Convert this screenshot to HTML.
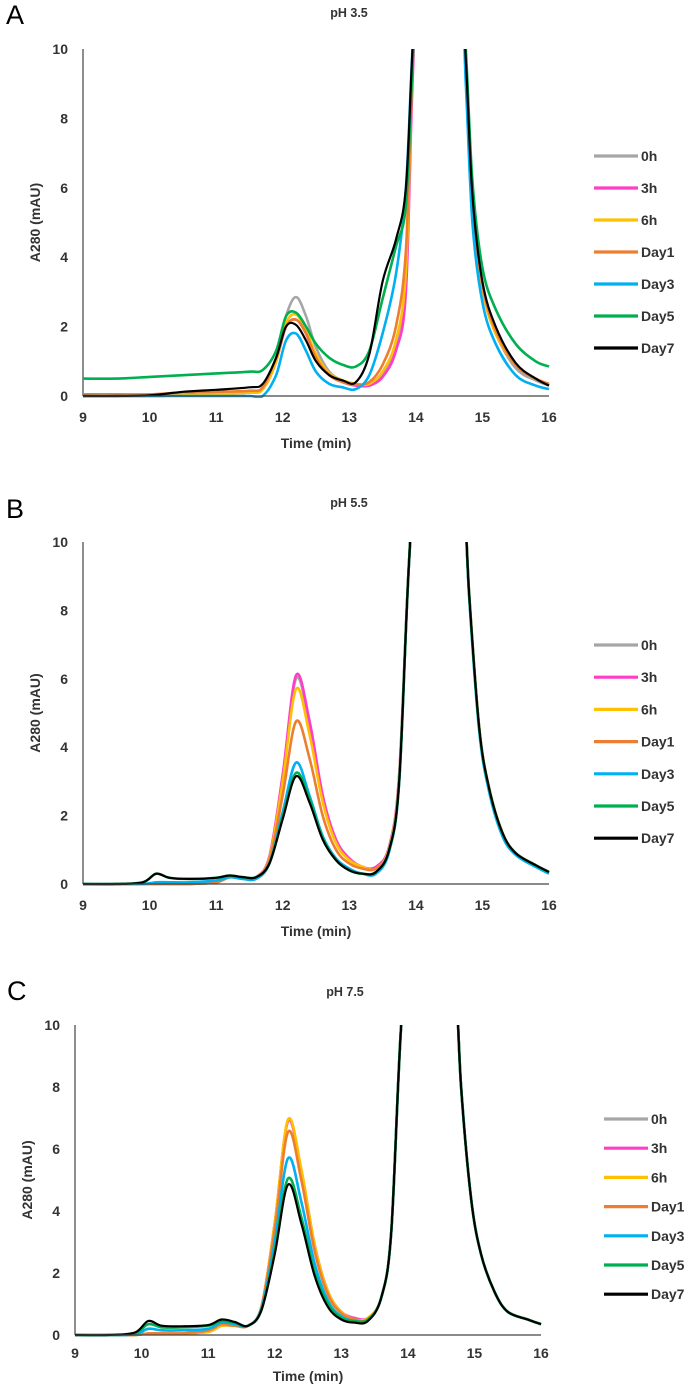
<!DOCTYPE html>
<html><head><meta charset="utf-8">
<style>
html,body{margin:0;padding:0;background:#fff;}
svg{display:block;}
text{font-family:"Liberation Sans",Arial,sans-serif;}
</style></head>
<body>
<svg id="fig" width="685" height="1386" viewBox="0 0 685 1386"></svg>
<script>
const seriesNames = ["0h","3h","6h","Day1","Day3","Day5","Day7"];
const seriesColors = ["#a6a6a6","#ff3dc8","#ffc000","#ed7d31","#00b0f0","#00b050","#000000"];
const xTicks = [9,10,11,12,13,14,15,16];
const yTicks = [0,2,4,6,8,10];

// Panel A (pH 3.5) time grid and values
const timesA = [9,9.5,10,10.5,11,11.5,11.7,11.9,12.05,12.2,12.35,12.5,12.7,12.9,13.1,13.3,13.5,13.7,13.85,13.95,14.1,14.6,14.75,14.85,15,15.2,15.5,15.8,16];
const a0h  = [0,0,0,0.02,0.05,0.1,0.2,1.0,2.3,2.85,2.3,1.4,0.7,0.45,0.35,0.3,0.6,1.5,3.5,9.5,15,15,9.5,5.5,3.1,1.8,0.8,0.45,0.3];
const a3h  = [0,0,0,0.02,0.05,0.1,0.2,1.0,2.0,2.2,1.8,1.1,0.6,0.4,0.3,0.3,0.55,1.3,3.0,9,15,15,9.5,5.5,3.1,1.8,0.9,0.5,0.35];
const a6h  = [0,0,0,0.02,0.05,0.1,0.2,1.0,2.1,2.35,1.9,1.2,0.65,0.45,0.35,0.35,0.7,1.6,3.6,9.5,15,15,9.5,5.5,3.1,1.8,0.9,0.5,0.35];
const aD1  = [0.05,0.05,0.05,0.1,0.12,0.15,0.25,1.1,2.0,2.2,1.8,1.1,0.6,0.4,0.33,0.4,0.9,2.0,4.2,9.5,15,15,9.5,5.6,3.2,1.9,0.9,0.5,0.35];
const aD3  = [0,0,0,0,0,0,0,0.6,1.6,1.8,1.3,0.7,0.35,0.25,0.2,0.6,1.8,3.5,6,10,15,15,9,5.0,2.7,1.5,0.6,0.3,0.2];
const aD5  = [0.5,0.5,0.55,0.6,0.65,0.7,0.75,1.3,2.3,2.4,2.0,1.5,1.1,0.9,0.85,1.3,2.8,4.3,5.5,9.5,15,15,10,6.2,3.7,2.5,1.5,1.0,0.85];
const aD7  = [0,0,0.02,0.12,0.18,0.25,0.35,1.1,2.0,2.05,1.6,1.0,0.6,0.45,0.4,1.2,3.3,4.5,6,10,15,15,9.7,5.8,3.3,2.0,0.95,0.5,0.3];

// Panel B (pH 5.5)
const timesB = [9,9.5,9.9,10.1,10.3,10.6,11.0,11.2,11.4,11.6,11.8,12.0,12.2,12.4,12.6,12.8,13.0,13.2,13.4,13.6,13.75,13.9,14.1,14.6,14.8,14.95,15.1,15.3,15.5,15.8,16];
const b0h = [0,0,0,0,0,0,0.05,0.2,0.2,0.2,0.8,3.1,6.0,4.7,2.55,1.3,0.75,0.5,0.5,1.1,3.2,9.5,15,15,8.5,4.6,2.8,1.5,0.9,0.55,0.35];
const b3h = [0,0,0,0,0,0,0.05,0.2,0.2,0.2,0.8,3.2,6.1,4.8,2.6,1.3,0.75,0.5,0.5,1.1,3.2,9.5,15,15,8.5,4.6,2.8,1.5,0.9,0.55,0.35];
const b6h = [0,0,0,0,0,0,0.05,0.2,0.2,0.2,0.75,3.0,5.7,4.4,2.4,1.2,0.7,0.5,0.45,1.05,3.1,9.5,15,15,8.5,4.6,2.8,1.5,0.9,0.55,0.35];
const bD1 = [0,0,0,0,0,0,0.05,0.2,0.2,0.2,0.7,2.6,4.75,3.7,2.0,1.0,0.6,0.45,0.45,1.0,3.0,9.5,15,15,8.5,4.6,2.8,1.5,0.9,0.55,0.35];
const bD3 = [0,0,0,0.05,0.05,0.05,0.1,0.2,0.15,0.15,0.6,2.1,3.55,2.6,1.4,0.75,0.45,0.3,0.3,0.95,3.0,9.5,15,15,8.4,4.5,2.7,1.4,0.85,0.5,0.3];
const bD5 = [0,0,0.05,0.3,0.18,0.15,0.18,0.25,0.2,0.2,0.6,1.95,3.25,2.5,1.35,0.7,0.4,0.3,0.35,1.0,3.0,9.5,15,15,8.5,4.6,2.8,1.5,0.9,0.55,0.35];
const bD7 = [0,0,0.05,0.3,0.18,0.15,0.18,0.25,0.2,0.2,0.6,1.9,3.15,2.4,1.3,0.7,0.4,0.3,0.35,1.0,3.0,9.5,15,15,8.5,4.6,2.8,1.5,0.9,0.55,0.35];

// Panel C (pH 7.5)
const timesC = timesB;
const c0h = [0,0,0,0.05,0.05,0.05,0.1,0.3,0.3,0.3,0.9,3.6,6.9,5.3,2.9,1.4,0.75,0.5,0.55,1.2,3.3,10,15,15,8.0,4.4,2.6,1.4,0.75,0.5,0.35];
const c3h = [0,0,0,0.05,0.05,0.05,0.1,0.3,0.3,0.3,0.9,3.6,6.9,5.3,2.9,1.4,0.75,0.55,0.55,1.2,3.3,10,15,15,8.0,4.4,2.6,1.4,0.75,0.5,0.35];
const c6h = [0,0,0,0.05,0.05,0.05,0.1,0.3,0.3,0.3,0.9,3.6,6.95,5.35,2.9,1.4,0.75,0.5,0.55,1.2,3.3,10,15,15,8.0,4.4,2.6,1.4,0.75,0.5,0.35];
const cD1 = [0,0,0,0.05,0.05,0.05,0.15,0.35,0.3,0.3,0.9,3.4,6.55,5.0,2.7,1.3,0.7,0.5,0.5,1.2,3.3,10,15,15,8.0,4.4,2.6,1.4,0.75,0.5,0.35];
const cD3 = [0,0,0.02,0.2,0.15,0.15,0.2,0.4,0.35,0.3,0.85,3.0,5.7,4.3,2.3,1.1,0.6,0.45,0.5,1.2,3.3,10,15,15,8.0,4.4,2.6,1.4,0.75,0.5,0.35];
const cD5 = [0,0,0.05,0.35,0.25,0.25,0.3,0.45,0.4,0.3,0.8,2.7,5.05,3.8,2.0,1.0,0.55,0.45,0.5,1.2,3.3,10,15,15,8.0,4.4,2.6,1.4,0.75,0.5,0.35];
const cD7 = [0,0,0.08,0.45,0.3,0.28,0.32,0.5,0.42,0.3,0.8,2.6,4.85,3.6,1.9,0.9,0.5,0.4,0.45,1.2,3.3,10,15,15,8.0,4.4,2.6,1.4,0.75,0.5,0.35];

const NS = "http://www.w3.org/2000/svg";
const svg = document.getElementById("fig");
function mk(tag, attrs, parent){
  const e = document.createElementNS(NS, tag);
  for (const k in attrs) e.setAttribute(k, attrs[k]);
  (parent||svg).appendChild(e);
  return e;
}
function smoothPath(pts){
  let d = "M"+pts[0][0].toFixed(1)+","+pts[0][1].toFixed(1);
  for (let i=0;i<pts.length-1;i++){
    const p0=pts[Math.max(0,i-1)], p1=pts[i], p2=pts[i+1], p3=pts[Math.min(pts.length-1,i+2)];
    const c1x=p1[0]+(p2[0]-p0[0])/6, c1y=p1[1]+(p2[1]-p0[1])/6;
    const c2x=p2[0]-(p3[0]-p1[0])/6, c2y=p2[1]-(p3[1]-p1[1])/6;
    d += " C"+c1x.toFixed(1)+","+c1y.toFixed(1)+" "+c2x.toFixed(1)+","+c2y.toFixed(1)+" "+p2[0].toFixed(1)+","+p2[1].toFixed(1);
  }
  return d;
}
function panel(cfg){
  const g = mk("g", {});
  
  
  const xs = v => cfg.x0 + (v-9)/(16-9)*(cfg.x1-cfg.x0);
  const ys = v => cfg.y0 - v/10*(cfg.y0-cfg.y10);
  const lab = mk("text", {x:cfg.labX, y:cfg.labY, "font-size":"27", "font-family":"Liberation Serif, serif", fill:"#000"}, g);
  lab.textContent = cfg.id.toUpperCase();
  
  
  const t = mk("text", {x:cfg.titleX, y:cfg.titleY, "font-size":"12.5", "font-weight":"bold", "text-anchor":"middle", fill:"#333"}, g);
  t.textContent = cfg.title;
  
  
  const ya = mk("line", {x1:cfg.x0, y1:cfg.y10, x2:cfg.x0, y2:cfg.y0, stroke:"#444", "stroke-width":"1.2"}, g);
  
  
  yTicks.forEach(v=>{
    const tl = mk("text", {x:cfg.x0-15, y:ys(v)+5, "font-size":"14", "font-weight":"bold", "text-anchor":"end", fill:"#333"}, g);
    tl.textContent = v;
    
    
  });
  xTicks.forEach(v=>{
    const tl = mk("text", {x:xs(v), y:cfg.y0+cfg.xTickOff, "font-size":"14", "font-weight":"bold", "text-anchor":"middle", fill:"#333"}, g);
    tl.textContent = v;
    
    
  });
  const xt = mk("text", {x:(cfg.x0+cfg.x1)/2, y:cfg.y0+cfg.xTitleOff, "font-size":"14", "font-weight":"bold", "text-anchor":"middle", fill:"#333"}, g);
  xt.textContent = "Time (min)";
  
  
  const ymid = (cfg.y0+cfg.y10)/2;
  const yt = mk("text", {x:cfg.yTitleX, y:ymid, "font-size":"14", "font-weight":"bold", "text-anchor":"middle", fill:"#333", transform:"rotate(-90 "+cfg.yTitleX+" "+ymid+")"}, g);
  yt.textContent = "A280 (mAU)";
  
  
  const cp = mk("clipPath", {id:"clip-"+cfg.id}, g);
  mk("rect", {x:cfg.x0, y:cfg.y10, width:cfg.x1-cfg.x0+2, height:cfg.y0-cfg.y10+2}, cp);
  const sg = mk("g", {"clip-path":"url(#clip-"+cfg.id+")"}, g);
  cfg.series.forEach((vals,i)=>{
    const pts = cfg.times.map((tv,j)=>[xs(tv), ys(vals[j])]);
    const p = mk("path", {d:smoothPath(pts), fill:"none", stroke:seriesColors[i], "stroke-width": i===6?"2.2":"2.6", "stroke-linejoin":"round"}, sg);
    
    
  });
  const xa = mk("line", {x1:cfg.x0, y1:cfg.y0, x2:cfg.x1, y2:cfg.y0, stroke:"#444", "stroke-width":"1.2"}, g);
  
  
  seriesNames.forEach((n,i)=>{
    const yy = cfg.legY + i*cfg.legStep;
    const le = mk("g", {}, g);
    
    
    mk("line", {x1:cfg.legX, y1:yy, x2:cfg.legX+44, y2:yy, stroke:seriesColors[i], "stroke-width":"3.2"}, le);
    const lt = mk("text", {x:cfg.legX+47, y:yy+5, "font-size":"14", "font-weight":"bold", fill:"#333"}, le);
    lt.textContent = n;
  });
}
panel({id:"a", title:"pH 3.5", x0:83, x1:549, y0:396, y10:49, labX:6, labY:24, titleX:349, titleY:17, xTickOff:26, xTitleOff:52,
  yTitleX:40, legX:594, legY:156, legStep:32, times:timesA, series:[a0h,a3h,a6h,aD1,aD3,aD5,aD7]});
panel({id:"b", title:"pH 5.5", x0:83, x1:549, y0:884, y10:542, labX:6, labY:518, titleX:349, titleY:507, xTickOff:26, xTitleOff:52,
  yTitleX:40, legX:594, legY:645, legStep:32.2, times:timesB, series:[b0h,b3h,b6h,bD1,bD3,bD5,bD7]});
panel({id:"c", title:"pH 7.5", x0:75, x1:541, y0:1335, y10:1025, labX:7, labY:1000, titleX:345, titleY:996, xTickOff:23, xTitleOff:46,
  yTitleX:32, legX:604, legY:1119, legStep:29.2, times:timesC, series:[c0h,c3h,c6h,cD1,cD3,cD5,cD7]});
</script>
</body></html>
